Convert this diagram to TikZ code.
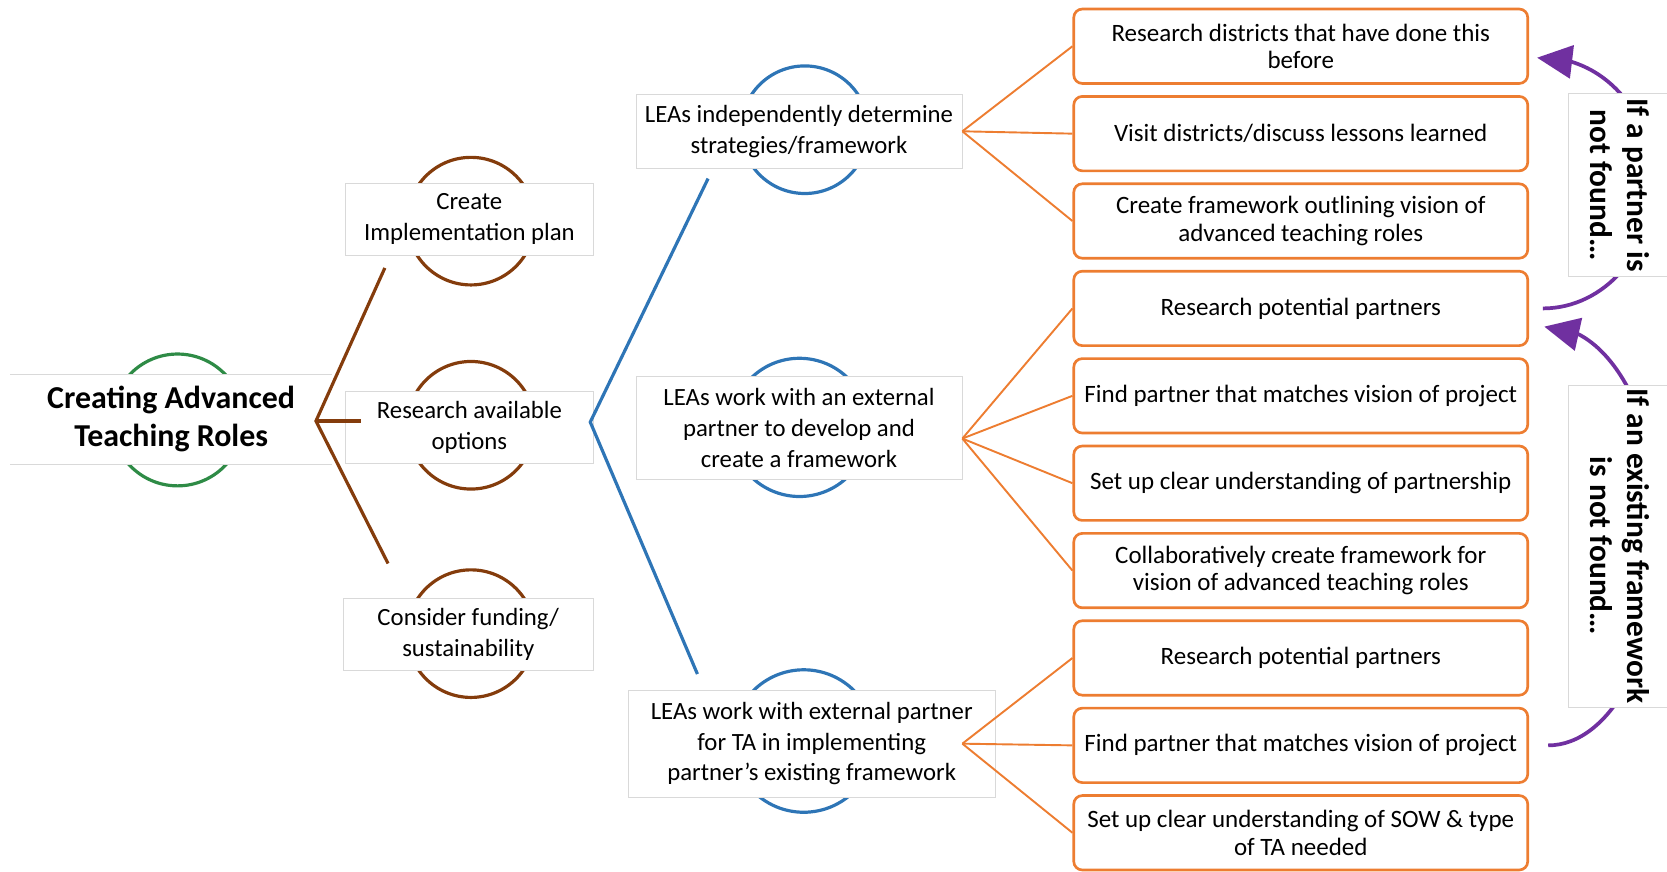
\documentclass[tikz,border=0pt]{standalone}
\usepackage{fontspec}
\setmainfont{Carlito}
\usetikzlibrary{arrows.meta, bending, positioning}
\definecolor{rootGreen} {HTML}{2E8B46}
\definecolor{stepBrown} {HTML}{843C0C}
\definecolor{optBlue}   {HTML}{2E75B6}
\definecolor{taskOrange}{HTML}{ED7D31}
\definecolor{loopPurple}{HTML}{7030A0}
\definecolor{boxGray}   {HTML}{D9D9D9}
\newlength{\TaskW}
\setlength{\TaskW}{427pt}
\newlength{\TaskH}
\setlength{\TaskH}{70pt}

\begin{document}
\begin{tikzpicture}[x=1pt, y=-1pt,
  lvl/.style={draw=boxGray, fill=white, align=center, inner sep=0pt,
    font=\fontsize{23.3}{29}\selectfont},
  task/.style={draw=taskOrange, line width=2.5pt, rounded corners=8pt,
    fill=white, minimum width=\TaskW, minimum height=\TaskH, align=center,
    inner sep=0pt, font=\fontsize{23.5}{26}\selectfont},
  notebox/.style={draw=boxGray, fill=white, rotate=-90, align=center,
    inner sep=0pt, font=\fontsize{29.5}{35}\selectfont\bfseries},
  twig/.style={taskOrange, line width=1.8pt},
  backarrow/.style={loopPurple, line width=3.5pt,
    -{Triangle[length=33pt, width=31pt]}}
]
\useasboundingbox (0,0) rectangle (1568,820);

% --- RINGS ---
\foreach \cx/\cy/\r/\col in {167/395/62/rootGreen,
  443/208/60/stepBrown, 443/400/60/stepBrown, 443/596/60/stepBrown,
  757/122/60/optBlue, 752/402/65/optBlue, 756/697/67/optBlue}{
  \draw[\col, line width=3pt] (\cx,\cy) circle[radius=\r pt];
}

% --- LEVEL BOXES ---
\node[lvl, draw=none, minimum width=302pt, minimum height=84pt,
  font=\fontsize{30}{35}\selectfont\bfseries] (root) at (161,394)
  {Creating Advanced\\Teaching Roles};
\draw[boxGray] (root.north west) -- (root.north east)
  (root.south west) -- (root.south east);
\node[lvl, minimum width=233pt, minimum height=68pt] (impl) at (441.5,206)
  {Create\\Implementation plan};
\node[lvl, minimum width=233pt, minimum height=68pt] (research) at (441.5,402)
  {Research available\\options};
\node[lvl, minimum width=235pt, minimum height=67pt] (funding) at (440.5,596.5)
  {Consider funding/\\sustainability};
\node[lvl, minimum width=307pt, minimum height=69pt] (indep) at (751.5,123.5)
  {LEAs independently determine\\strategies/framework};
\node[lvl, minimum width=307pt, minimum height=97pt] (extdev) at (751.5,402.5)
  {LEAs work with an external\\partner to develop and\\create a framework};
\node[lvl, minimum width=345pt, minimum height=101pt] (extta) at (763.5,699.5)
  {LEAs work with external partner\\for TA in implementing\\partner’s existing framework};

% --- BRANCHES ---
\coordinate (rj) at ([xshift=-15pt, yshift=-2pt]root.east);
\coordinate (implEnd) at (362,252);
\coordinate (fundEnd) at (365,530);
\draw[stepBrown, line width=3pt] (implEnd) -- (rj) -- (fundEnd);
\draw[stepBrown, line width=3pt] (rj) -- ([xshift=15pt]research.west |- rj);

\coordinate (bj) at ([xshift=-3pt, yshift=5pt]research.east);
\coordinate (indepEnd) at (666,168);
\coordinate (extEnd) at (656,634);
\draw[optBlue, line width=3pt] (indepEnd) -- (bj) -- (extEnd);

% --- TASKS ---
\foreach \i/\txt in {
  1/{Research districts that have done this\\before},
  2/{Visit districts/discuss lessons learned},
  3/{Create framework outlining vision of\\advanced teaching roles},
  4/{Research potential partners},
  5/{Find partner that matches vision of project},
  6/{Set up clear understanding of partnership},
  7/{Collaboratively create framework for\\vision of advanced teaching roles},
  8/{Research potential partners},
  9/{Find partner that matches vision of project},
  10/{Set up clear understanding of SOW \& type\\of TA needed}}{
  \node[task] (t\i) at (1223.5, {43.5+82.2*(\i-1)}) {\txt};
}

\coordinate (ej) at ([yshift=-10pt]extdev.east);
\coordinate (tj) at ([xshift=-31pt]extta.east);
\foreach \i in {1,2,3} \draw[twig] (indep.east) -- (t\i.west);
\foreach \i in {4,...,7} \draw[twig] (ej) -- (t\i.west);
\foreach \i in {8,9,10} \draw[twig] (tj) -- (t\i.west);

% --- LOOPS BACK ---
\coordinate (a1s) at ([xshift=13pt]t4.east);
\coordinate (a2s) at ([xshift=18pt]t9.east);
\draw[backarrow] (a1s) arc[start angle=-90, end angle=93,
  x radius=104pt, y radius=118pt];
\draw[backarrow] (a2s) arc[start angle=-90, end angle=92,
  x radius=106pt, y radius=197pt];

\node[notebox, minimum width=172pt, minimum height=97pt] (n1) at (1523.5,174)
  {If a partner is\\not found…};
\node[notebox, minimum width=303pt, minimum height=97pt] (n2) at (1523.5,513.5)
  {If an existing framework\\is not found…};

\end{tikzpicture}
\end{document}
